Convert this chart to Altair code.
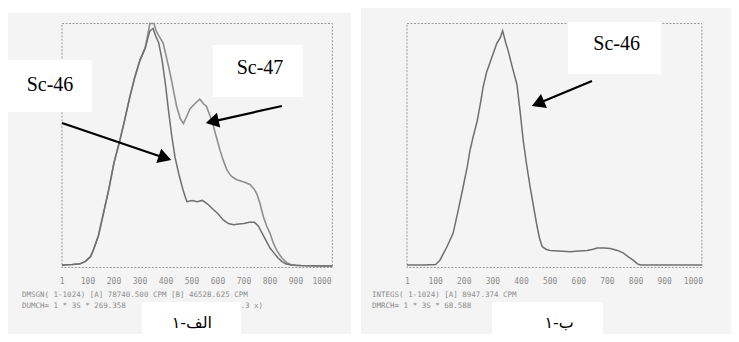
import altair as alt
import pandas as pd

# ---------------- data ----------------
tick_values = [1, 100, 200, 300, 400, 500, 600, 700, 800, 900, 1000]
tick_labels = ["1", "100", "200", "300", "400", "500", "600", "700", "800", "900", "1000"]

# left panel, lower curve (Sc-46)
l46_ch = [0, 40, 70, 90, 110, 120, 140, 160, 180, 200, 220, 240, 260, 280, 300, 320, 338, 350,
          360, 372, 385, 398, 410, 422, 435, 450, 465, 480, 500, 520, 540, 560, 580, 600, 620,
          640, 660, 680, 700, 720, 740, 755, 770, 785, 800, 815, 830, 845, 860, 880, 920, 1000, 1040]
l46_val = [1.0, 1.2, 1.5, 2.5, 4.5, 7, 13, 22.5, 32, 43, 51, 60, 69.5, 78, 85, 90, 97, 98,
           95, 92, 85, 75, 64, 54, 45, 38, 32, 27, 27.5, 27, 27.5, 26, 24, 22, 19.5,
           18, 17.5, 17.8, 18, 18.5, 18.5, 17, 14, 11, 8, 6, 4, 2.5, 1.5, 1, 0.8, 0.6, 0.6]

# left panel, upper curve (Sc-47)
l47_ch = [0, 40, 70, 90, 110, 120, 140, 160, 180, 200, 220, 240, 260, 280, 300, 320, 338, 354,
          362, 372, 389, 402, 415, 428, 441, 455, 467, 480, 492, 510, 530, 545, 556, 570, 582,
          595, 608, 620, 634, 650, 672, 700, 723, 740, 750, 762, 774, 787, 800, 813, 826, 845,
          864, 880, 900, 1000, 1040]
l47_val = [1.0, 1.2, 1.5, 2.5, 4.5, 7, 13, 22.5, 32, 43, 51, 60, 69.5, 78, 85, 90, 100, 100,
           97, 95, 92, 86, 80, 73, 66, 61, 59, 62, 65, 67, 69, 67, 66, 62, 58,
           53, 48, 44, 40, 37.5, 36, 35, 34, 32, 30, 26, 21, 17, 14, 10, 7, 4,
           2, 1.2, 0.8, 0.6, 0.6]

# right panel curve (Sc-46)
r46_ch = [0, 60, 100, 115, 140, 161, 180, 196, 210, 220, 232, 245, 256, 266, 278, 290, 302, 314,
          325, 334, 345, 353, 368, 384, 395, 406, 418, 430, 442, 454, 463, 472, 485, 500, 530,
          570, 600, 629, 650, 664, 690, 710, 735, 755, 772, 790, 805, 815, 850, 1030]
r46_val = [1, 1, 1.2, 3, 8.6, 14, 24, 33, 41, 48, 54, 60, 67, 74, 80, 84, 88, 92,
           94, 97, 92, 89, 82, 75, 64, 52, 42, 33, 25, 17, 12, 8.6, 7.5, 7, 6.8,
           6.5, 6.8, 7, 7.5, 8, 8, 7.8, 7, 6, 4.5, 3, 1.5, 1, 1, 1]

left_info1 = "DMSGN( 1-1024)  [A] 78740.500 CPM [B] 46528.625 CPM"
left_info2 = "DUMCH= 1 * 3S *   269.358"
left_info3 = ".3 x)"
right_info1 = "INTEGS( 1-1024)  [A]  8947.374 CPM"
right_info2 = "DMRCH= 1 * 3S *    68.588"

# caption "١-الف" and "١-ب", split so the digit stays on the left
caption_digit = "١"
left_caption_word = "-الف"
right_caption_word = "-ب"

# ---------------- scales ----------------
W, H = 723, 326
xL = alt.Scale(domain=[0, 1040], range=[54, 324.4])
xR = alt.Scale(domain=[0, 1030], range=[399, 693.9])
yS = alt.Scale(domain=[0, 100], range=[259.5, 15.5])

SCAN = "#8c8c8c"
MONO = "DejaVu Sans Mono"


def rects(rows, xs, **kw):
    df = pd.DataFrame(rows, columns=["x0", "x1", "y0", "y1"])
    return alt.Chart(df).mark_rect(**kw).encode(
        x=alt.X("x0:Q", scale=xs, axis=None), x2="x1:Q",
        y=alt.Y("y0:Q", scale=yS, axis=None), y2="y1:Q")


def texts(rows, xs, **kw):
    df = pd.DataFrame(rows, columns=["x", "y", "t"])
    return alt.Chart(df).mark_text(**kw).encode(
        x=alt.X("x:Q", scale=xs, axis=None),
        y=alt.Y("y:Q", scale=yS, axis=None),
        text="t:N")


def curve(ch, val, xs, color, sw=1.5):
    df = pd.DataFrame({"ch": ch, "v": val})
    return alt.Chart(df).mark_line(color=color, strokeWidth=sw).encode(
        x=alt.X("ch:Q", scale=xs, axis=None),
        y=alt.Y("v:Q", scale=yS, axis=None))


def arrows(rows, xs):
    df = pd.DataFrame(rows, columns=["x0", "y0", "x1", "y1", "ang"])
    line = alt.Chart(df).mark_rule(color="black", strokeWidth=2.2).encode(
        x=alt.X("x0:Q", scale=xs, axis=None), x2="x1:Q",
        y=alt.Y("y0:Q", scale=yS, axis=None), y2="y1:Q")
    head = alt.Chart(df).mark_point(shape="triangle-right", filled=True, size=230,
                                    color="black", opacity=1, strokeWidth=0).encode(
        x=alt.X("x1:Q", scale=xs, axis=None),
        y=alt.Y("y1:Q", scale=yS, axis=None),
        angle=alt.Angle("ang:Q", scale=None))
    return [line, head]


def panel(xs, bg, frame, t_y, curves, info_rows, info_right, boxes, labels, arr, cap_box,
          cap_x, cap_y, cap_word):
    layers = [
        rects([bg], xs, color="#f4f4f4"),
        rects([frame], xs, fill=None, stroke="#9a9a9a", strokeWidth=1, strokeDash=[2, 1.5],
              filled=False),
        texts([(v, t_y, s) for v, s in zip(tick_values, tick_labels)], xs,
              font=MONO, fontSize=8, color=SCAN, align="center", baseline="middle"),
    ]
    layers += curves
    layers.append(texts(info_rows, xs, font=MONO, fontSize=7.5, color=SCAN,
                        align="left", baseline="middle"))
    if info_right:
        layers.append(texts(info_right, xs, font=MONO, fontSize=7.5, color=SCAN,
                            align="right", baseline="middle"))
    layers.append(rects(boxes + [cap_box], xs, color="white"))
    layers.append(texts(labels, xs, font="Liberation Serif", fontSize=20, color="black",
                        align="center", baseline="middle"))
    layers.append(texts([(cap_x, cap_y, caption_digit)], xs, font="DejaVu Sans", fontSize=16,
                        color="black", align="right", baseline="middle"))
    layers.append(texts([(cap_x, cap_y, cap_word)], xs, font="DejaVu Sans", fontSize=16,
                        color="black", align="left", baseline="middle"))
    layers += arrows(arr, xs)
    return layers


left_layers = panel(
    xL,
    bg=(-208, 1112, -31, 104.3),
    frame=(0, 1040, 0, 100),
    t_y=-5.9,
    curves=[curve(l47_ch, l47_val, xL, "#8f8f8f", 1.6), curve(l46_ch, l46_val, xL, "#6f6f6f", 1.5)],
    info_rows=[(-154, -11.3, left_info1), (-154, -15.8, left_info2)],
    info_right=[(773, -15.8, left_info3)],
    boxes=[(-208, 115, 63.7, 85.0), (581, 927, 69.9, 91.2)],
    labels=[(-46, 75.0, "Sc-46"), (761.5, 81.8, "Sc-47")],
    arr=[(0, 59.2, 396, 44.9, 18.7), (846, 66.2, 577.7, 59.8, 167.4)],
    cap_box=(308, 689, -14.1, -31),
    cap_x=455, cap_y=-22.7, cap_word=left_caption_word,
)

right_layers = panel(
    xR,
    bg=(-160.7, 1160, -31, 110),
    frame=(0, 1030, 0, 100),
    t_y=-5.9,
    curves=[curve(r46_ch, r46_val, xR, "#6f6f6f", 1.5)],
    info_rows=[(-122.2, -11.3, right_info1), (-122.2, -15.8, right_info2)],
    info_right=None,
    boxes=[(562.4, 887.2, 79.3, 100.6)],
    labels=[(732.4, 91.6, "Sc-46")],
    arr=[(646, 76.4, 457.2, 67.2, 157.4)],
    cap_box=(297, 684.6, -14.1, -31),
    cap_x=510, cap_y=-22.7, cap_word=right_caption_word,
)

chart = alt.layer(*(left_layers + right_layers)).resolve_scale(x="independent").properties(
    width=W, height=H, autosize="none", padding=0, background="white"
).configure_view(stroke=None)

chart.save("out.html", embed_options={"renderer": "svg", "actions": False})
